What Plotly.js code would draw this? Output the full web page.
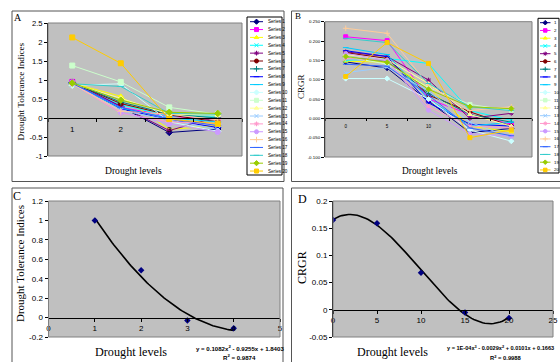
<!DOCTYPE html>
<html><head><meta charset="utf-8">
<script src="https://cdn.plot.ly/plotly-3.0.1.min.js"></script>
<style>html,body{margin:0;padding:0;background:#fff}#chart{width:560px;height:362px}</style>
</head><body><div id="chart"></div>
<script>
const W = 560, H = 362;

// ---------- DATA ----------
// Panel A: Drought Tolerance Indices, 20 series over 4 drought levels
const levelsA = [1, 2, 3, 4];
const tickPosA = [1, 2, 3];
const tickLabelsA = ['1', '2', '3'];
const namesA = ['Series 1','Series 2','Series 3','Series 4','Series 5','Series 6','Series 7','Series 8','Series 9','Series 10',
                'Series 11','Series 12','Series 13','Series 14','Series 15','Series 16','Series 17','Series 18','Series 19','Series 20'];
const dtiA = [
  [0.93, 0.30, -0.38, -0.29],
  [0.95, 0.28, 0.05, -0.05],
  [0.92, 0.57, -0.30, -0.20],
  [0.90, 0.35, 0.05, 0.05],
  [0.95, 0.32, -0.33, 0.03],
  [0.93, 0.38, 0.08, -0.10],
  [0.92, 0.42, 0.10, 0.00],
  [0.92, 0.25, -0.05, -0.25],
  [0.90, 0.26, 0.00, -0.10],
  [0.86, 0.90, -0.10, -0.35],
  [1.38, 0.95, 0.28, 0.10],
  [0.90, 0.52, 0.10, 0.08],
  [0.88, 0.20, -0.05, -0.30],
  [0.90, 0.13, -0.10, -0.15],
  [0.94, 0.15, -0.15, -0.37],
  [0.90, 0.18, 0.10, -0.05],
  [0.91, 0.28, -0.02, -0.20],
  [0.90, 0.83, 0.12, 0.10],
  [0.92, 0.47, 0.15, 0.12],
  [2.12, 1.44, -0.03, -0.15]
];
const yTicksA = [2.5, 2, 1.5, 1, 0.5, 0, -0.5, -1];
const yTickTextA = ['2.5', '2', '1.5', '1', '0.5', '0', '-0.5', '-1'];

// Panel B: CRGR, 20 series over 5 drought levels
const levelsB = ['0', '5', '10', '15', '20'];
const tickPosB = [1, 2, 3];
const tickLabelsB = ['0', '5', '10'];
const namesB = ['1','2','3','4','5','6','7','8','9','10','11','12','13','14','15','16','17','18','19','20'];
const crgrB = [
  [0.146, 0.130, 0.045, -0.037, -0.026],
  [0.211, 0.201, 0.050, 0.010, -0.015],
  [0.148, 0.145, 0.080, -0.020, -0.035],
  [0.150, 0.155, 0.142, 0.020, -0.005],
  [0.172, 0.160, 0.099, 0.000, 0.013],
  [0.170, 0.155, 0.060, 0.017, -0.020],
  [0.158, 0.148, 0.065, 0.010, -0.010],
  [0.175, 0.160, 0.040, -0.015, -0.020],
  [0.183, 0.165, 0.050, -0.020, -0.010],
  [0.103, 0.103, 0.050, -0.030, -0.059],
  [0.160, 0.140, 0.080, 0.036, 0.020],
  [0.165, 0.152, 0.090, 0.010, -0.020],
  [0.118, 0.132, 0.070, -0.010, -0.050],
  [0.155, 0.150, 0.030, -0.020, -0.025],
  [0.168, 0.150, 0.021, -0.040, -0.046],
  [0.233, 0.220, 0.085, 0.020, 0.030],
  [0.140, 0.135, 0.060, -0.025, -0.045],
  [0.207, 0.196, 0.090, 0.030, 0.020],
  [0.160, 0.145, 0.075, 0.030, 0.025],
  [0.108, 0.196, 0.142, -0.050, -0.030]
];
const yTicksB = [0.25, 0.2, 0.15, 0.1, 0.05, 0, -0.05, -0.1];
const yTickTextB = ['0.250', '0.200', '0.150', '0.100', '0.050', '0.000', '-0.050', '-0.100'];

// Panel C: mean DTI with polynomial (order 2) trend
const levelsC = [1, 2, 3, 4];
const dtiC = [1.0, 0.486, -0.03, -0.11];
const eqC = 'y = 0.1082x<sup>2</sup> - 0.9255x + 1.8403';
const r2C = 'R<sup>2</sup> = 0.9874';
const yTicksC = [1.2, 1, 0.8, 0.6, 0.4, 0.2, 0, -0.2];
const yTickTextC = ['1.2', '1', '0.8', '0.6', '0.4', '0.2', '0', '-0.2'];

// Panel D: mean CRGR with polynomial (order 3) trend
const levelsD = [0, 5, 10, 15, 20];
const crgrD = [0.165, 0.159, 0.068, -0.005, -0.015];
const eqD = 'y = 1E-04x<sup>3</sup> - 0.0029x<sup>2</sup> + 0.0101x + 0.1663';
const r2D = 'R<sup>2</sup> = 0.9988';
const yTicksD = [0.2, 0.15, 0.1, 0.05, 0, -0.05];
const yTickTextD = ['0.2', '0.15', '0.1', '0.05', '0', '-0.05'];

// ---------- STYLE ----------
const colors = ['#000080','#ff00ff','#ffff00','#00ffff','#800080','#800000','#008080','#0000ff','#00ccff','#ccffff',
                '#ccffcc','#ffff99','#99ccff','#ff99cc','#cc99ff','#ffcc99','#3366ff','#33cccc','#99cc00','#ffcc00'];
const symCycle = ['diamond','square','triangle-up','x-thin-open','asterisk-open','circle','cross-thin-open','line-ew-open','line-ew-open'];
const SERIF = 'Liberation Serif, Times New Roman, serif';
const SANS = 'Liberation Sans, Arial, sans-serif';
const NARROW = 'Liberation Sans Narrow, Arial Narrow, Liberation Sans, Arial, sans-serif';
const px = v => v / W;
const py = v => 1 - v / H;

// least squares polynomial fit (Excel trendline)
function polyfit(xs, ys, deg) {
  const n = deg + 1;
  const M = [];
  for (let i = 0; i < n; i++) { M.push(new Array(n + 1).fill(0)); }
  xs.forEach((x, k) => {
    for (let i = 0; i < n; i++) {
      for (let j = 0; j < n; j++) M[i][j] += Math.pow(x, i + j);
      M[i][n] += ys[k] * Math.pow(x, i);
    }
  });
  for (let c = 0; c < n; c++) {
    let p = c;
    for (let r = c + 1; r < n; r++) if (Math.abs(M[r][c]) > Math.abs(M[p][c])) p = r;
    [M[c], M[p]] = [M[p], M[c]];
    for (let r = 0; r < n; r++) {
      if (r === c) continue;
      const f = M[r][c] / M[c][c];
      for (let k = c; k <= n; k++) M[r][k] -= f * M[c][k];
    }
  }
  return M.map((row, i) => row[n] / row[i]);
}
function trend(xs, ys, deg) {
  const c = polyfit(xs, ys, deg);
  const x0 = Math.min(...xs), x1 = Math.max(...xs);
  const tx = [], ty = [];
  for (let k = 0; k <= 80; k++) {
    const x = x0 + (x1 - x0) * k / 80;
    tx.push(x);
    ty.push(c.reduce((s, ci, i) => s + ci * Math.pow(x, i), 0));
  }
  return {tx, ty};
}

const traces = [];
const annotations = [];
const shapes = [];

// Panel A series
dtiA.forEach((vals, i) => {
  traces.push({type: 'scatter', mode: 'lines+markers', x: levelsA, y: vals, xaxis: 'x', yaxis: 'y',
    line: {color: colors[i], width: 1},
    marker: {symbol: symCycle[i % 9], size: 5, color: colors[i], line: {color: colors[i], width: 1}},
    hoverinfo: 'skip'});
});
// Panel B series
const xB = levelsB.map((_, i) => i + 1);
crgrB.forEach((vals, i) => {
  traces.push({type: 'scatter', mode: 'lines+markers', x: xB, y: vals, xaxis: 'x2', yaxis: 'y2',
    line: {color: colors[i], width: 1},
    marker: {symbol: symCycle[i % 9], size: 4, color: colors[i], line: {color: colors[i], width: 1}},
    hoverinfo: 'skip'});
});
// Panel C
const tC = trend(levelsC, dtiC, 2);
traces.push({type: 'scatter', mode: 'lines', x: tC.tx, y: tC.ty, xaxis: 'x3', yaxis: 'y3',
  line: {color: '#000', width: 1.6}, hoverinfo: 'skip'});
traces.push({type: 'scatter', mode: 'markers', x: levelsC, y: dtiC, xaxis: 'x3', yaxis: 'y3',
  marker: {symbol: 'diamond', size: 5, color: '#000080'}, hoverinfo: 'skip'});
// Panel D
const tD = trend(levelsD, crgrD, 3);
traces.push({type: 'scatter', mode: 'lines', x: tD.tx, y: tD.ty, xaxis: 'x4', yaxis: 'y4',
  line: {color: '#000', width: 1.6}, hoverinfo: 'skip'});
traces.push({type: 'scatter', mode: 'markers', x: levelsD, y: crgrD, xaxis: 'x4', yaxis: 'y4',
  marker: {symbol: 'diamond', size: 5, color: '#000080'}, hoverinfo: 'skip'});

// Legends (built as small traces + text)
function buildLegend(names, xa, ya, y0, dy, lx0, lx1, tx, size, fs) {
  names.forEach((nm, i) => {
    const yy = y0 + i * dy;
    traces.push({type: 'scatter', mode: 'lines+markers', x: [lx0, (lx0 + lx1) / 2, lx1], y: [yy, yy, yy],
      xaxis: xa, yaxis: ya, line: {color: colors[i], width: 1},
      marker: {symbol: symCycle[i % 9], size: [1, size, 1], opacity: [0, 1, 0], color: colors[i], line: {color: colors[i], width: 1}},
      hoverinfo: 'skip', cliponaxis: false});
    annotations.push({xref: xa, yref: ya, x: tx, y: yy, text: nm, showarrow: false, xanchor: 'left', yanchor: 'middle',
      font: {family: SANS, size: fs, color: '#000'}});
  });
}
buildLegend(namesA, 'x5', 'y5', 21.7, 7.86, 250, 263, 265.5, 4, 4.6);
buildLegend(namesB, 'x6', 'y6', 22.7, 7.75, 540, 550.5, 551.8, 3.5, 4.4);

// Panel borders
function box(x0, y0, x1, y1, col, w) {
  shapes.push({type: 'rect', xref: 'paper', yref: 'paper', x0: px(x0), x1: px(x1), y0: py(y1), y1: py(y0),
    line: {color: col, width: w}, fillcolor: 'rgba(0,0,0,0)', layer: 'above'});
}
box(12, 11, 284, 181.5, '#555', 1);
box(291.5, 11, 566, 181.5, '#555', 1);
box(12, 188, 283, 366, '#555', 1);
box(291.5, 188, 566, 366, '#555', 1);
// Legend boxes (white fill)
['x5', 'x6'].forEach((xa, k) => {
  shapes.push({type: 'rect', xref: xa + ' domain', yref: (k ? 'y6' : 'y5') + ' domain', x0: 0, x1: 1, y0: 0, y1: 1,
    line: {color: '#000', width: 1}, fillcolor: '#fff', layer: 'below'});
});
// plot-area borders
['', '2', '3', '4'].forEach(s => {
  shapes.push({type: 'rect', xref: 'x' + s + ' domain', yref: 'y' + s + ' domain', x0: 0, x1: 1, y0: 0, y1: 1,
    line: {color: '#808080', width: 1}, fillcolor: 'rgba(0,0,0,0)', layer: 'above'});
});

// Text: panel letters, axis titles, equations
function txt(x, y, t, size, fam, angle) {
  annotations.push({xref: 'paper', yref: 'paper', x: px(x), y: py(y), text: t, showarrow: false,
    xanchor: 'center', yanchor: 'middle', textangle: angle || 0, font: {family: fam, size: size, color: '#000'}});
}
txt(18, 18, 'A', 10, SERIF);
txt(297.5, 16, 'B', 9, SERIF);
txt(16.5, 196, 'C', 12, SERIF);
txt(302, 198.5, 'D', 12, SERIF);
txt(21, 91.5, 'Drought Tolerance Indices', 9.2, SERIF, -90);
txt(133, 171, 'Drought levels', 9.6, SERIF);
txt(301, 87, 'CRGR', 9, SERIF, -90);
txt(430, 171, 'Drought levels', 9.4, SERIF);
txt(20, 264, 'Drought Tolerance Indices', 11, SERIF, -90);
txt(131, 352, 'Drought levels', 12.2, SERIF);
txt(302, 268, 'CRGR', 12, SERIF, -90);
txt(392, 352, 'Drought levels', 12, SERIF);
txt(240, 347.5, '<b>' + eqC + '</b>', 6.1, NARROW);
txt(239, 357, '<b>' + r2C + '</b>', 6.1, NARROW);
txt(500, 347.5, '<b>' + eqD + '</b>', 5.6, NARROW);
txt(506, 357, '<b>' + r2D + '</b>', 5.8, NARROW);

// ---------- AXES ----------
function yax(dom, range, tv, tt, xa, fs) {
  return {domain: dom, range: range, anchor: xa, tickmode: 'array', tickvals: tv, ticktext: tt,
    showline: true, linecolor: '#000', linewidth: 1, ticks: 'outside', ticklen: 3, tickcolor: '#000',
    showgrid: false, zeroline: false, tickfont: {family: SANS, size: fs, color: '#000'}, fixedrange: true};
}
function zeroPos(domPx, range) { // paper y of the value 0 on an axis spanning domPx [top,bottom]
  const [top, bot] = domPx;
  return py(bot - (0 - range[0]) / (range[1] - range[0]) * (bot - top));
}
const rA = [-1, 2.5], rB = [-0.1, 0.25], rC = [-0.2, 1.2], rD = [-0.05, 0.2];
const layout = {
  width: W, height: H, margin: {l: 0, r: 0, t: 0, b: 0}, showlegend: false,
  paper_bgcolor: '#fff', plot_bgcolor: '#c0c0c0',
  xaxis: {domain: [px(48), px(242)], range: [0.5, 4.5], anchor: 'free', position: zeroPos([23, 156], rA),
    tickmode: 'array', tickvals: tickPosA, ticktext: tickLabelsA, ticks: '', ticklabelstandoff: 3,
    minor: {tickvals: [0.5, 1.5, 2.5, 3.5, 4.5], ticks: 'outside', ticklen: 3, tickcolor: '#000'},
    showline: true, linecolor: '#000', showgrid: false, zeroline: false,
    tickfont: {family: SANS, size: 8, color: '#000'}, fixedrange: true},
  yaxis: yax([py(156), py(23)], rA, yTicksA, yTickTextA, 'x', 7.6),
  xaxis2: {domain: [px(325), px(532)], range: [0.5, 5.5], anchor: 'free', position: zeroPos([21.7, 157], rB),
    tickmode: 'array', tickvals: tickPosB, ticktext: tickLabelsB, ticks: '', ticklabelstandoff: 3,
    minor: {tickvals: [0.5, 1.5, 2.5, 3.5, 4.5, 5.5], ticks: 'outside', ticklen: 2, tickcolor: '#000'},
    showline: true, linecolor: '#000', showgrid: false, zeroline: false,
    tickfont: {family: SANS, size: 4.5, color: '#000'}, fixedrange: true},
  yaxis2: yax([py(157), py(21.7)], rB, yTicksB, yTickTextB, 'x2', 4.4),
  xaxis3: {domain: [px(48.5), px(280)], range: [0, 5], anchor: 'free', position: zeroPos([201, 337], rC),
    tickmode: 'linear', tick0: 0, dtick: 1, ticks: 'outside', ticklen: 3, tickcolor: '#000',
    showline: true, linecolor: '#000', showgrid: false, zeroline: false,
    tickfont: {family: SANS, size: 8, color: '#000'}, fixedrange: true},
  yaxis3: yax([py(337), py(201)], rC, yTicksC, yTickTextC, 'x3', 8),
  xaxis4: {domain: [px(333), px(553)], range: [0, 25], anchor: 'free', position: zeroPos([201, 337], rD),
    tickmode: 'linear', tick0: 0, dtick: 5, ticks: 'outside', ticklen: 3, tickcolor: '#000',
    showline: true, linecolor: '#000', showgrid: false, zeroline: false,
    tickfont: {family: SANS, size: 8, color: '#000'}, fixedrange: true},
  yaxis4: yax([py(337), py(201)], rD, yTicksD, yTickTextD, 'x4', 8),
  xaxis5: {domain: [px(247), px(282)], range: [247, 282], anchor: 'y5', visible: false, fixedrange: true},
  yaxis5: {domain: [py(175), py(17)], range: [175, 17], anchor: 'x5', visible: false, fixedrange: true},
  xaxis6: {domain: [px(538), px(559)], range: [538, 559], anchor: 'y6', visible: false, fixedrange: true},
  yaxis6: {domain: [py(173), py(18.3)], range: [173, 18.3], anchor: 'x6', visible: false, fixedrange: true},
  annotations: annotations, shapes: shapes
};
Plotly.newPlot('chart', traces, layout, {displayModeBar: false, staticPlot: true});
</script></body></html>
